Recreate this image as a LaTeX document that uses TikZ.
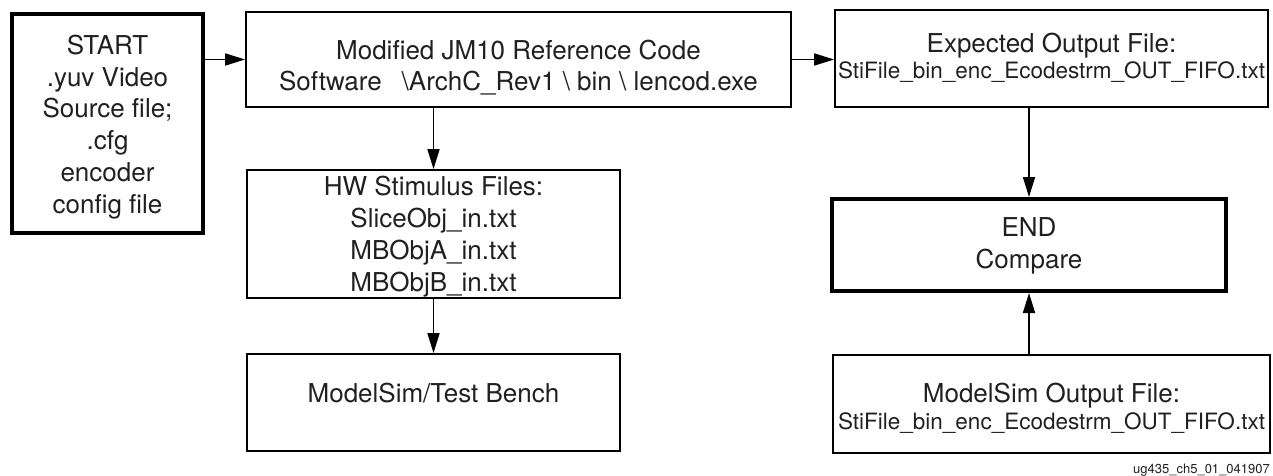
\documentclass[tikz,border=0pt]{standalone}
\usepackage{fontspec}
\setmainfont{TeX Gyre Heros}
\usetikzlibrary{arrows.meta}
\definecolor{mytext}{RGB}{35,31,32}

\begin{document}
\begin{tikzpicture}[x=1pt, y=-1pt,
    box/.style={draw=black, line width=1.8pt, rectangle, inner sep=0pt, align=center,
        text=mytext, font=\fontsize{26}{31.7}\selectfont, text depth=0pt},
    thickbox/.style={box, line width=4pt},
    flow/.style={line width=1.7pt, -{Triangle[length=20pt, width=12pt]}}]

% Page frame.
\useasboundingbox (0, 0) rectangle (1273, 476);

% Defining nodes.
\draw (107.5, 123.5) node[thickbox, minimum width=191, minimum height=219, text height=179pt] (Start)
    {START\\.yuv Video\\Source file;\\.cfg\\encoder\\config file};
\draw (518.5, 59.5) node[box, minimum width=545, minimum height=95, text height=63pt] (Mod)
    {Modified JM10 Reference Code\\Software\hspace{20pt}\textbackslash ArchC\_Rev1 \textbackslash{} bin \textbackslash{} lencod.exe};
\draw (1051.5, 58.5) node[box, minimum width=433, minimum height=97, text height=40pt] (Exp)
    {Expected Output File:\\[-5.5pt]{\fontsize{22.5}{27}\selectfont StiFile\_bin\_enc\_Ecodestrm\_OUT\_FIFO.txt}};
\draw (433.5, 234) node[box, minimum width=373, minimum height=128, text height=114pt] (HW)
    {HW Stimulus Files:\\SliceObj\_in.txt\\MBObjA\_in.txt\\MBObjB\_in.txt};
\draw (433.5, 402.5) node[box, minimum width=373, minimum height=97,
    text height=19pt, text depth=19pt] (TB) {ModelSim/Test Bench};
\draw (1029, 245) node[thickbox, minimum width=394, minimum height=92, text height=46pt] (End)
    {END\\Compare};
\draw (1051.5, 404) node[box, minimum width=437, minimum height=98, text height=50pt] (Out)
    {ModelSim Output File:\\[-4.7pt]{\fontsize{22.5}{27}\selectfont StiFile\_bin\_enc\_Ecodestrm\_OUT\_FIFO.txt}};
\draw (1270, 473) node[anchor=base east, inner sep=0pt, text=mytext,
    font=\fontsize{13}{15}\selectfont] (Tag) {ug435\_ch5\_01\_041907};

% Connections.
\draw[flow] (Mod.west -| Start.east) -- (Mod.west);
\draw[flow] (Mod.east) -- (Mod.east -| Exp.west);
\draw[flow] (HW.north |- Mod.south) -- (HW.north);
\draw[flow] (HW.south) -- (TB.north);
\draw[flow] (End.north |- Exp.south) -- (End.north);
\draw[flow] (Out.north -| End.south) -- (End.south);

\end{tikzpicture}
\end{document}
